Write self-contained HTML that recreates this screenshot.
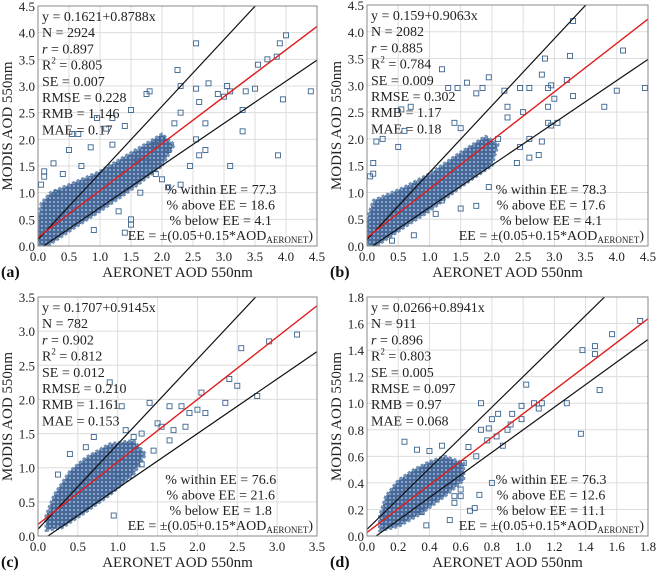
<!DOCTYPE html>
<html><head><meta charset="utf-8"><style>
body{margin:0;background:#fff;}
svg{display:block;font-family:"Liberation Serif",serif;}
</style></head><body>
<svg id="chart" width="659" height="571" viewBox="0 0 659 571">
<defs>
<pattern id="sq" width="4" height="4" patternUnits="userSpaceOnUse">
<rect x="0" y="0" width="4" height="4" fill="#46699a"/>
<rect x="1" y="1" width="2" height="2" fill="#8aa3c4"/>
</pattern>
</defs>
</svg>
<script>
// ---- data ----
const panelLetters = ["(a)","(b)","(c)","(d)"];
const axisMax = [4.5, 4.5, 3.5, 1.8];
const tickStep = [0.5, 0.5, 0.5, 0.2];
const regIntercept = [0.1621, 0.159, 0.1707, 0.0266];
const regSlope = [0.8788, 0.9063, 0.9145, 0.8941];
const eeUpperSlope = [1.25, 1.25, 1.245, 1.15];
const eeUpperInt = [0.12, 0.12, 0.1, 0.05];
const eeLowerSlope = [0.79, 0.79, 0.8, 0.85];
const eeLowerInt = [-0.07, -0.07, -0.1, -0.05];
const statsA = ["y = 0.1621+0.8788x","N = 2924","r = 0.897","R2 = 0.805","SE = 0.007","RMSE = 0.228","RMB = 1.146","MAE = 0.17"];
const statsB = ["y = 0.159+0.9063x","N = 2082","r = 0.885","R2 = 0.784","SE = 0.009","RMSE = 0.302","RMB = 1.17","MAE = 0.18"];
const statsC = ["y = 0.1707+0.9145x","N = 782","r = 0.902","R2 = 0.812","SE = 0.012","RMSE = 0.210","RMB = 1.161","MAE = 0.153"];
const statsD = ["y = 0.0266+0.8941x","N = 911","r = 0.896","R2 = 0.803","SE = 0.005","RMSE = 0.097","RMB = 0.97","MAE = 0.068"];
const withinEE = [77.3, 78.3, 76.6, 76.3];
const aboveEE = [18.6, 17.6, 21.6, 12.6];
const belowEE = [4.1, 4.1, 1.8, 11.1];
const cloudA = [[0,0],[0.15,0],[0.6,0.35],[1.0,0.65],[1.5,1.05],[2.0,1.5],[2.2,1.9],[2.0,2.1],[1.5,1.75],[1.0,1.4],[0.7,1.25],[0.4,1.1],[0.2,1.0],[0.05,0.8],[0,0.5]];
const cloudB = [[0,0],[0.15,0],[0.6,0.35],[1.0,0.65],[1.5,1.1],[2.0,1.5],[2.1,1.9],[1.9,2.05],[1.5,1.75],[1.0,1.35],[0.6,1.1],[0.3,0.95],[0.1,0.85],[0,0.5]];
const cloudC = [[0.1,0.08],[0.3,0.12],[0.6,0.35],[0.9,0.6],[1.2,0.9],[1.35,1.2],[1.2,1.4],[0.9,1.35],[0.6,1.15],[0.4,0.95],[0.2,0.6],[0.1,0.3]];
const cloudD = [[0.08,0.04],[0.2,0.07],[0.35,0.17],[0.5,0.3],[0.62,0.42],[0.62,0.55],[0.5,0.6],[0.4,0.56],[0.3,0.5],[0.2,0.42],[0.12,0.3],[0.08,0.15]];
const pointsA = [[2.55,3.8],[4.0,3.95],[3.9,3.8],[3.85,3.55],[3.7,3.5],[3.55,3.4],[4.4,2.9],[3.95,2.75],[3.87,1.7],[3.3,2.15],[3.1,1.5],[3.3,2.55],[3.05,3.0],[3.1,2.9],[2.9,2.85],[2.75,3.05],[2.55,2.95],[2.6,2.7],[2.25,3.3],[2.3,3.0],[2.3,2.5],[2.2,2.3],[2.0,2.0],[1.8,2.9],[1.75,2.85],[1.5,2.55],[1.2,2.4],[0.95,2.4],[0.65,2.1],[0.55,2.1],[0.5,1.8],[0.85,1.85],[0.25,1.55],[0.1,1.4],[0.1,1.3],[0.05,1.15],[1.1,2.2],[1.4,2.25],[2.1,1.1],[2.3,1.15],[1.9,1.35],[2.6,1.7],[2.0,1.25],[1.5,0.5],[1.5,0.4],[1.4,0.25],[0.9,0.3],[1.3,0.65],[2.7,1.8],[2.45,1.5],[3.35,2.9],[3.0,2.8],[3.5,2.95],[2.55,2.0],[2.7,2.3],[1.65,1.0],[1.75,1.6],[1.9,1.9],[1.6,1.6],[2.1,1.8],[1.2,1.9],[0.7,1.5],[0.4,1.35],[0.3,1.0]];
const pointsB = [[3.3,4.2],[4.1,3.65],[2.85,3.5],[3.25,3.55],[2.8,3.2],[3.2,3.1],[2.9,2.95],[2.95,3.0],[3.3,2.8],[4.45,2.95],[4.0,2.9],[3.8,2.6],[2.9,2.3],[2.95,2.25],[2.6,1.65],[2.4,1.55],[2.45,1.85],[2.75,1.7],[2.8,1.95],[2.6,2.0],[2.5,2.5],[2.45,2.95],[2.2,2.9],[2.6,2.95],[2.25,2.6],[1.95,3.15],[1.85,2.95],[1.6,3.05],[1.45,2.95],[1.75,2.85],[1.85,1.5],[1.95,1.1],[1.75,0.75],[1.5,0.7],[1.2,0.85],[1.1,0.6],[1.2,3.3],[1.3,2.95],[0.7,2.6],[0.55,2.55],[0.6,2.15],[0.25,2.0],[0.5,1.85],[0.15,1.95],[0.1,1.55],[0.1,1.35],[0.05,1.3],[1.4,2.3],[1.5,2.2],[2.1,2.0],[2.25,2.4],[3.05,2.3],[2.9,2.6],[3.0,2.75],[0.4,0.1],[0.75,0.2]];
const pointsC = [[3.25,2.95],[2.9,2.85],[2.55,2.75],[2.4,2.3],[2.5,2.2],[2.75,2.05],[2.35,1.95],[2.05,2.1],[2.0,1.85],[2.1,1.8],[1.9,1.8],[1.8,1.9],[1.65,1.9],[1.4,1.95],[1.05,1.9],[0.9,2.25],[1.5,1.65],[1.55,1.6],[1.7,1.55],[1.85,1.6],[1.65,1.4],[1.3,1.05],[1.0,0.9],[0.95,0.3],[0.4,1.2],[0.25,0.9],[0.6,1.3],[0.7,1.45],[1.2,1.45],[1.45,1.25],[1.1,1.55],[1.3,1.5]];
const pointsD = [[1.75,1.62],[1.57,1.52],[1.46,1.43],[1.46,1.37],[1.38,1.4],[1.49,1.1],[1.37,0.77],[1.28,1.0],[1.12,1.0],[1.07,1.0],[1.1,0.96],[1.02,1.14],[0.99,0.98],[0.99,0.88],[0.93,0.92],[0.92,0.84],[0.84,0.92],[0.9,0.8],[0.8,0.88],[0.8,0.4],[0.73,1.0],[0.72,0.31],[0.69,0.21],[0.66,0.19],[0.6,0.3],[0.6,0.35],[0.53,0.12],[0.56,0.3],[0.56,0.25],[0.24,0.71],[0.32,0.65],[0.4,0.64],[0.48,0.68],[0.38,0.08],[0.35,0.18],[0.78,0.81],[0.83,0.75],[0.73,0.8],[0.77,0.72],[0.7,0.6],[0.65,0.67],[0.62,0.55],[0.87,0.68]];

const allStats = [statsA, statsB, statsC, statsD];
const allClouds = [cloudA, cloudB, cloudC, cloudD];
const allPoints = [pointsA, pointsB, pointsC, pointsD];
const boxes = [{l:38,r:317,t:6,b:246},{l:367,r:648,t:5,b:246},{l:38,r:317,t:297,b:536},{l:367,r:648,t:297,b:536}];

const svg = document.getElementById('chart');
const NS = "http://www.w3.org/2000/svg";
function mk(tag, attrs, parent){const e=document.createElementNS(NS,tag);for(const k in attrs)e.setAttribute(k,attrs[k]);(parent||svg).appendChild(e);return e;}

for(let p=0;p<4;p++){
  const B=boxes[p], M=axisMax[p];
  const sx=v=>B.l+(v/M)*(B.r-B.l);
  const sy=v=>B.b-(v/M)*(B.b-B.t);
  const g=mk('g',{});
  
  
  const clipId='clip'+p;
  const cp=mk('clipPath',{id:clipId},g); mk('rect',{x:B.l,y:B.t,width:B.r-B.l,height:B.b-B.t},cp);
  const nT=Math.round(M/tickStep[p]);
  for(let i=0;i<=nT;i++){
    const v=i*tickStep[p];
    const gx=mk('line',{x1:sx(v),x2:sx(v),y1:B.t,y2:B.b,stroke:'#ddd','stroke-width':1},g);
    
    
    const gy=mk('line',{x1:B.l,x2:B.r,y1:sy(v),y2:sy(v),stroke:'#ddd','stroke-width':1},g);
    
    
    const tx=mk('text',{x:sx(v),y:B.b+15,'text-anchor':'middle','font-size':13,fill:'#222'},g);
    tx.textContent=v.toFixed(1);
    
    
    const ty=mk('text',{x:B.l-3,y:sy(v)+5,'text-anchor':'end','font-size':13,fill:'#222'},g);
    ty.textContent=v.toFixed(1);
    
    
  }
  const pg=mk('g',{'clip-path':'url(#'+clipId+')'},g);
  const cl=mk('polygon',{points:allClouds[p].map(d=>sx(d[0])+','+sy(d[1])).join(' '),fill:'url(#sq)',stroke:'#6f8fb5','stroke-width':3,'stroke-linejoin':'round','stroke-dasharray':'3 2'},pg);
  
  
  allPoints[p].forEach(d=>{
    const r=mk('rect',{x:sx(d[0])-2.5,y:sy(d[1])-2.5,width:5,height:5,fill:'none',stroke:'#3a6390','stroke-width':0.9},pg);
    
    
  });
  const lu=mk('line',{x1:sx(0),y1:sy(eeUpperInt[p]),x2:sx(M),y2:sy(eeUpperInt[p]+eeUpperSlope[p]*M),stroke:'#111','stroke-width':1.2},pg);
  
  
  const ll=mk('line',{x1:sx(0),y1:sy(eeLowerInt[p]),x2:sx(M),y2:sy(eeLowerInt[p]+eeLowerSlope[p]*M),stroke:'#111','stroke-width':1.2},pg);
  
  
  const rl=mk('line',{x1:sx(0),y1:sy(regIntercept[p]),x2:sx(M),y2:sy(regIntercept[p]+regSlope[p]*M),stroke:'#e01c1c','stroke-width':1.4},pg);
  
  
  const fr=mk('rect',{x:B.l,y:B.t,width:B.r-B.l,height:B.b-B.t,fill:'none',stroke:'#888','stroke-width':1},g);
  
  
  allStats[p].forEach((s,i)=>{
    const t=mk('text',{x:B.l+4,y:B.t+15+i*16.2,'font-size':14,fill:'#222'},g);
    if(i===2){t.innerHTML='<tspan font-style="italic">r</tspan>'+s.slice(1);}
    else if(i===3){t.innerHTML='R<tspan font-size="9" dy="-6">2</tspan><tspan dy="6">'+s.slice(2)+'</tspan>';}
    else t.textContent=s;
    
    
  });
  const cx=B.l+(B.r-B.l)*0.655;
  const lines=['% within EE = '+withinEE[p],'% above EE = '+aboveEE[p],'% below EE = '+belowEE[p]];
  lines.forEach((s,i)=>{
    const t=mk('text',{x:cx,y:B.b-52+i*15.5,'text-anchor':'middle','font-size':14,fill:'#222'},g);
    t.textContent=s;
    
    
  });
  const ee=mk('text',{x:B.r-4,y:B.b-6,'text-anchor':'end','font-size':14,fill:'#222'},g);
  ee.innerHTML='EE = ±(0.05+0.15*AOD<tspan font-size="9" dy="3">AERONET</tspan><tspan dy="-3">)</tspan>';
  
  
  const xt=mk('text',{x:(B.l+B.r)/2,y:B.b+31,'text-anchor':'middle','font-size':15,fill:'#222'},g);
  xt.textContent='AERONET AOD 550nm';
  
  
  const yx=B.l-26, yy=(B.t+B.b)/2;
  const yt=mk('text',{x:yx,y:yy,'text-anchor':'middle','font-size':15,fill:'#222',transform:'rotate(-90 '+yx+' '+yy+')'},g);
  yt.textContent='MODIS AOD 550nm';
  
  
  const lt=mk('text',{x:B.l-37,y:B.b+31,'font-size':16,'font-weight':'bold',fill:'#111'},g);
  lt.textContent=panelLetters[p];
  
  
}
</script>
</body></html>
